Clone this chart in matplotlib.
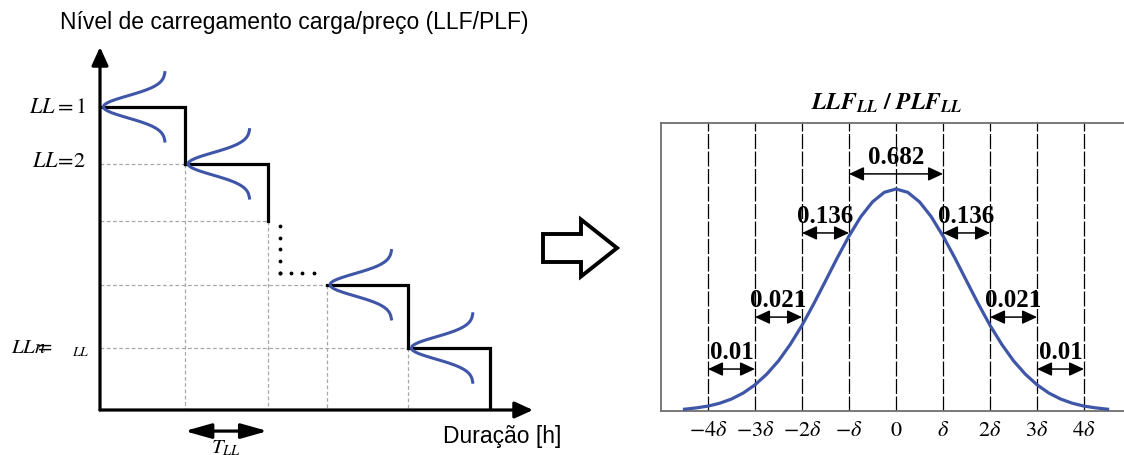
import numpy as np
import matplotlib
matplotlib.use("Agg")
import matplotlib.pyplot as plt
from matplotlib.patches import FancyArrow

plt.rcParams["mathtext.fontset"] = "stix"
plt.rcParams["font.family"] = ["Liberation Sans", "DejaVu Sans"]

# ---- data -------------------------------------------------------------
# bell profile (x in units of delta, height relative to the peak)
bell_x = [-4.5, -4.25, -4.0, -3.75, -3.5, -3.25, -3.0, -2.75, -2.5, -2.25,
          -2.0, -1.75, -1.5, -1.25, -1.0, -0.75, -0.5, -0.25, 0.0,
          0.25, 0.5, 0.75, 1.0, 1.25, 1.5, 1.75, 2.0, 2.25, 2.5, 2.75,
          3.0, 3.25, 3.5, 3.75, 4.0, 4.25, 4.5]
bell_h = [0.008, 0.014, 0.022, 0.035, 0.054, 0.081, 0.118, 0.166, 0.226, 0.300,
          0.386, 0.483, 0.586, 0.690, 0.788, 0.875, 0.942, 0.985, 1.000,
          0.985, 0.942, 0.875, 0.788, 0.690, 0.586, 0.483, 0.386, 0.300, 0.226, 0.166,
          0.118, 0.081, 0.054, 0.035, 0.022, 0.014, 0.008]

tick_pos = [-4, -3, -2, -1, 0, 1, 2, 3, 4]
tick_lbl = [r"$-4\delta$", r"$-3\delta$", r"$-2\delta$", r"$-\delta$", r"$0$",
            r"$\delta$", r"$2\delta$", r"$3\delta$", r"$4\delta$"]

prob_lbl = ["0.682", "0.136", "0.136", "0.021", "0.021", "0.01", "0.01"]
prob_span = [(-1, 1), (-2, -1), (1, 2), (-3, -2), (2, 3), (-4, -3), (3, 4)]
prob_row = [1.068, 0.802, 0.802, 0.423, 0.423, 0.189, 0.189]   # arrow heights

# load-level steps (duration units, level units)
step_start = [0.0, 1.02, 2.73, 3.71]
step_end = [1.02, 2.02, 3.71, 4.70]
step_level = [4.89, 3.97, 2.02, 1.00]
step_drop = [3.97, 3.05, 1.00, 0.0]

BLUE = "#3f56a8"
W, H = 1124, 456

fig = plt.figure(figsize=(W / 100, H / 100), dpi=100)

# overlay in pixel coords for free text / big arrow
ax0 = fig.add_axes([0, 0, 1, 1])
ax0.set_xlim(0, W)
ax0.set_ylim(H, 0)
ax0.axis("off")
ax0.text(294, 22, "Nível de carregamento carga/preço (LLF/PLF)",
         ha="center", va="center", fontsize=16.5)
ax0.text(561, 437, "Duração [h]", ha="right", va="center", fontsize=16.5)
ax0.add_patch(FancyArrow(543, 249, 74, 0, width=28, head_width=57, head_length=36,
                         length_includes_head=True, fc="white", ec="black", lw=2.8))

# ---- left panel -------------------------------------------------------
ax1 = fig.add_axes([100 / W, 45 / H, 433 / W, 363 / H])
ax1.set_xlim(0, 433 / 83)
ax1.set_ylim(0, 363 / 62)
ax1.axis("off")

ap = dict(arrowstyle="-|>,head_length=1.1,head_width=0.5", mutation_scale=10,
          lw=2.3, color="k", shrinkA=0, shrinkB=0)
ax1.annotate("", xy=(1, 0), xytext=(0, 0), xycoords="axes fraction", arrowprops=ap)
ax1.annotate("", xy=(0, 1), xytext=(0, 0), xycoords="axes fraction", arrowprops=ap)

# dashed guide lines
corners = set()
for i in range(3):
    corners.add((step_end[i], step_drop[i]))
for i in range(1, 4):
    corners.add((step_start[i], step_level[i]))
for cx, cy in sorted(corners):
    ax1.plot([0, cx], [cy, cy], color="#a8a8a8", lw=0.9, ls=(0, (3, 2)), zorder=1)
    ax1.plot([cx, cx], [cy, 0], color="#a8a8a8", lw=0.9, ls=(0, (3, 2)), zorder=1)

for s0, s1, lv, dr in zip(step_start, step_end, step_level, step_drop):
    ax1.plot([s0, s1, s1], [lv, lv, dr], color="k", lw=2.3,
             solid_joinstyle="miter", solid_capstyle="projecting", zorder=3)

# ellipsis dots
xd = step_end[1] + 0.145
ax1.plot([xd] * 5, np.linspace(step_drop[1] - 0.08, step_level[2] + 0.19, 5),
         "k.", ms=3.5, zorder=3)
ax1.plot(np.linspace(xd, xd + 0.41, 4), [step_level[2] + 0.19] * 4,
         "k.", ms=3.5, zorder=3)

# sideways bells at each step
bx = np.array(bell_x)
bh = np.array(bell_h)
for s0, lv in zip(step_start, step_level):
    ax1.plot(s0 + 0.04 + (62 / 83) * (1 - bh), lv + bx * (7.6 / 62),
             color=BLUE, lw=2.2, clip_on=False, zorder=4)

ax1.text(-0.17, step_level[0], r"$LL=1$", ha="right", va="center", fontsize=16)
ax1.text(-0.17, step_level[1] + 0.05, r"$LL\!=\!2$", ha="right", va="center", fontsize=16)
ax1.text(-0.56, step_level[3] + 0.03, r"$LLn\!\!\!\!=$", ha="right", va="center", fontsize=15)
ax1.text(-0.12, step_level[3] - 0.05, r"$LL$", ha="right", va="center", fontsize=10)

ax1.annotate("", xy=(step_end[1], -0.34), xytext=(step_start[1], -0.34),
             arrowprops=dict(arrowstyle="<|-|>,head_length=1.6,head_width=0.45",
                             mutation_scale=10, lw=2.3, color="k",
                             shrinkA=0, shrinkB=0), annotation_clip=False)
ax1.text((step_start[1] + step_end[1]) / 2, -0.6, r"$T_{LL}$",
         ha="center", va="center", fontsize=15)

# ---- right panel ------------------------------------------------------
ax2 = fig.add_axes([661 / W, 44 / H, 463 / W, 288 / H])
ax2.set_xlim(-5, 4.85)
ax2.set_ylim(0, 288 / 222)
for side in ["left", "top", "bottom"]:
    ax2.spines[side].set_color("#6e6e6e")
    ax2.spines[side].set_linewidth(1.3)
ax2.spines["right"].set_visible(False)
ax2.set_yticks([])
ax2.set_xticks(tick_pos, tick_lbl, fontsize=16)
ax2.tick_params(axis="x", length=0, pad=6)

ax2.vlines(tick_pos, 0, 288 / 222, color="k", lw=0.9, linestyles=(0, (12, 2)))
ax2.plot(bell_x, bell_h, color=BLUE, lw=2.3, zorder=3)

for lbl, (a, b), y in zip(prob_lbl, prob_span, prob_row):
    ax2.annotate("", xy=(b, y), xytext=(a, y),
                 arrowprops=dict(arrowstyle="<|-|>,head_length=0.75,head_width=0.35",
                                 mutation_scale=12, lw=1.1, color="k",
                                 shrinkA=0, shrinkB=0))
    ax2.text((a + b) / 2, y + 0.08, lbl, ha="center", va="center",
             fontsize=18, family="Liberation Serif", weight="bold", zorder=5)

ax2.text(-0.2, 1.392, r"$\mathbfit{LLF}_{\mathbfit{LL}}\ \mathbf{/}\ \mathbfit{PLF}_{\mathbfit{LL}}$",
         ha="center", va="center", fontsize=17, clip_on=False)

fig.savefig("out.png", dpi=100)
